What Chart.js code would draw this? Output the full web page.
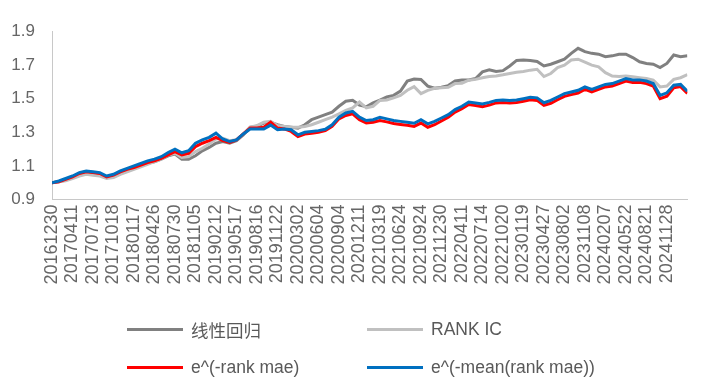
<!DOCTYPE html>
<html>
<head>
<meta charset="utf-8">
<script src="https://cdn.jsdelivr.net/npm/chart.js@4.4.1/dist/chart.umd.min.js"></script>
<style>
html, body { margin: 0; padding: 0; background: #fff; }
#wrap { position: relative; width: 714px; height: 390px; }
#legend { position: absolute; left: 0; top: 0; width: 714px; height: 390px; pointer-events: none;
  font-family: "Liberation Sans", Arial, "Noto Sans CJK SC", sans-serif; font-size: 17.5px; color: #595959; }
.item { position: absolute; display: flex; align-items: center; height: 22px; white-space: nowrap; }
.swatch { width: 56px; height: 3px; margin-right: 8px; }
</style>
</head>
<body>
<div id="wrap">
  <canvas id="c" width="714" height="390"></canvas>
  <div id="legend"></div>
</div>
<script>
// --- DATA (3 points per label step) ---
const tickLabels = ['20161230','20170411','20170713','20171018','20180117','20180426','20180730','20181105',
  '20190212','20190517','20190816','20191122','20200302','20200604','20200904','20201211','20210319',
  '20210624','20210924','20211230','20220411','20220714','20221020','20230119','20230427','20230802',
  '20231108','20240207','20240522','20240821','20241128'];

const seriesNames = ['线性回归', 'RANK IC', 'e^(-rank mae)', 'e^(-mean(rank mae))'];

const linearReg = [1.00,1.005,1.015,1.03,1.045,1.055,1.05,1.045,1.03,1.035,1.055,1.07,1.085,1.10,1.115,1.125,
  1.14,1.16,1.17,1.14,1.14,1.16,1.19,1.21,1.235,1.245,1.235,1.25,1.285,1.33,1.335,1.355,1.36,1.345,1.335,1.33,
  1.325,1.345,1.375,1.39,1.405,1.42,1.455,1.485,1.49,1.462,1.452,1.475,1.492,1.51,1.52,1.545,1.605,1.617,1.615,
  1.575,1.562,1.568,1.578,1.605,1.611,1.611,1.62,1.66,1.672,1.662,1.667,1.695,1.728,1.73,1.728,1.722,1.695,1.705,
  1.72,1.735,1.77,1.80,1.78,1.77,1.765,1.75,1.755,1.765,1.765,1.745,1.72,1.71,1.705,1.685,1.71,1.76,1.75,1.755];

const rankIC = [1.00,1.005,1.012,1.025,1.04,1.05,1.045,1.04,1.025,1.03,1.05,1.065,1.08,1.095,1.11,1.125,
  1.14,1.165,1.175,1.15,1.155,1.185,1.205,1.23,1.26,1.265,1.25,1.255,1.29,1.33,1.34,1.36,1.365,1.34,1.335,1.33,
  1.33,1.335,1.345,1.36,1.375,1.39,1.41,1.43,1.445,1.48,1.445,1.455,1.49,1.492,1.505,1.52,1.55,1.572,1.53,
  1.55,1.562,1.565,1.568,1.59,1.592,1.61,1.615,1.625,1.632,1.635,1.642,1.65,1.658,1.662,1.67,1.675,1.632,1.65,
  1.685,1.70,1.73,1.735,1.718,1.70,1.69,1.655,1.635,1.632,1.635,1.63,1.625,1.62,1.61,1.57,1.575,1.615,1.625,1.643];

const rankMae = [1.00,1.005,1.02,1.035,1.055,1.065,1.06,1.055,1.035,1.045,1.065,1.08,1.09,1.105,1.12,1.13,
  1.145,1.165,1.185,1.165,1.175,1.215,1.235,1.25,1.27,1.25,1.24,1.255,1.29,1.325,1.325,1.33,1.36,1.325,1.32,1.305,
  1.275,1.29,1.295,1.30,1.31,1.335,1.38,1.40,1.41,1.375,1.355,1.36,1.37,1.362,1.352,1.347,1.342,1.335,1.355,
  1.33,1.345,1.367,1.39,1.42,1.44,1.465,1.46,1.452,1.462,1.475,1.477,1.475,1.477,1.485,1.493,1.49,1.46,1.473,
  1.494,1.514,1.524,1.534,1.555,1.54,1.555,1.57,1.576,1.59,1.605,1.597,1.598,1.59,1.575,1.50,1.515,1.565,1.572,1.532];

const meanRankMae = [1.00,1.01,1.025,1.04,1.06,1.07,1.065,1.06,1.04,1.05,1.07,1.085,1.10,1.115,1.13,1.14,
  1.155,1.18,1.20,1.178,1.19,1.235,1.255,1.27,1.295,1.26,1.245,1.255,1.29,1.32,1.32,1.32,1.343,1.315,1.32,1.315,
  1.285,1.30,1.305,1.31,1.318,1.345,1.39,1.415,1.425,1.39,1.37,1.375,1.389,1.38,1.37,1.365,1.36,1.354,1.375,
  1.35,1.365,1.385,1.405,1.435,1.455,1.48,1.475,1.468,1.478,1.49,1.492,1.49,1.492,1.50,1.508,1.505,1.476,1.49,
  1.51,1.53,1.54,1.55,1.57,1.555,1.57,1.585,1.59,1.605,1.62,1.611,1.612,1.605,1.59,1.52,1.535,1.58,1.585,1.545];

const seriesColors = ['#808080', '#c0c0c0', '#ff0000', '#0070c0'];
const FONT = '"Liberation Sans", Arial, sans-serif';

function toPoints(arr) { return arr.map((v, i) => ({ x: i, y: v })); }

const allSeries = [linearReg, rankIC, rankMae, meanRankMae];
const datasets = allSeries.map((s, i) => ({
    label: seriesNames[i],
    data: toPoints(s),
    borderColor: seriesColors[i],
    borderWidth: 3,
    pointRadius: 0,
    fill: false,
    order: 4 - i // blue drawn on top
}));

new Chart(document.getElementById('c').getContext('2d'), {
    type: 'line',
    data: { datasets: datasets },
    options: {
        responsive: false,
        animation: false,
        layout: { padding: { left: 0, right: 22, top: 31.5, bottom: 90.5 } },
        plugins: { legend: { display: false }, tooltip: { enabled: false } },
        scales: {
            x: {
                type: 'linear', min: 0, max: meanRankMae.length - 1,
                grid: { display: false, drawTicks: false },
                border: { display: true, color: '#c8c8c8', width: 1 },
                ticks: {
                    stepSize: 3, autoSkip: false, maxRotation: 90, minRotation: 90, padding: 5,
                    color: '#666666', font: { family: FONT, size: 18 },
                    callback: v => tickLabels[v / 3] ?? ''
                },
                afterFit: s => { s.height = 100; }
            },
            y: {
                min: 0.9, max: 1.9,
                grid: { display: false, drawTicks: false },
                border: { display: true, color: '#c8c8c8', width: 1 },
                ticks: {
                    stepSize: 0.2, padding: 17, color: '#666666', font: { family: FONT, size: 17 },
                    callback: v => v.toFixed(1)
                },
                afterFit: s => { s.width = 52; }
            }
        }
    }
});

// legend, 2 x 2 grid
const legendPos = [[127, 329], [367, 329], [127, 367], [367, 367]];
const legendEl = document.getElementById('legend');
seriesNames.forEach((name, i) => {
    const item = document.createElement('div');
    item.className = 'item';
    item.style.left = legendPos[i][0] + 'px';
    item.style.top = (legendPos[i][1] - 11) + 'px';
    const sw = document.createElement('div');
    sw.className = 'swatch';
    sw.style.background = seriesColors[i];
    const txt = document.createElement('span');
    txt.textContent = name;
    if (i === 0) txt.style.fontFamily = '"Noto Sans CJK SC", sans-serif';
    item.appendChild(sw);
    item.appendChild(txt);
    legendEl.appendChild(item);
});
</script>
</body>
</html>
